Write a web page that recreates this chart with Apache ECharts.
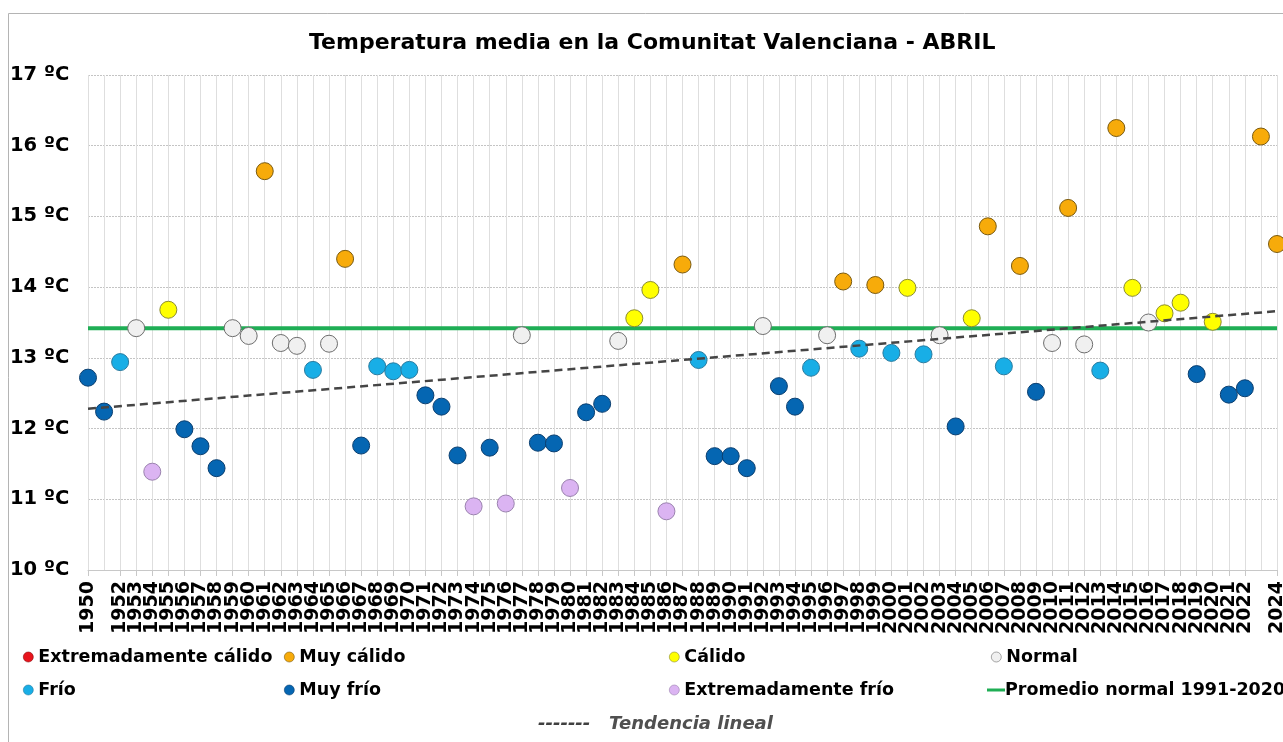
<!DOCTYPE html>
<html>
<head>
<meta charset="utf-8">
<script src="https://cdn.jsdelivr.net/npm/echarts@6/dist/echarts.min.js"></script>
<style>
  html, body { margin: 0; padding: 0; background: #fff; }
  #chart { width: 1283px; height: 742px; }
</style>
</head>
<body>
<div id="chart"></div>
<script>
// años (eje X)
const years = [
  1950, 1951, 1952, 1953, 1954, 1955, 1956, 1957, 1958, 1959,
  1960, 1961, 1962, 1963, 1964, 1965, 1966, 1967, 1968, 1969,
  1970, 1971, 1972, 1973, 1974, 1975, 1976, 1977, 1978, 1979,
  1980, 1981, 1982, 1983, 1984, 1985, 1986, 1987, 1988, 1989,
  1990, 1991, 1992, 1993, 1994, 1995, 1996, 1997, 1998, 1999,
  2000, 2001, 2002, 2003, 2004, 2005, 2006, 2007, 2008, 2009,
  2010, 2011, 2012, 2013, 2014, 2015, 2016, 2017, 2018, 2019,
  2020, 2021, 2022, 2023, 2024
];

// temperatura media de abril (ºC)
const tempAbril = [
  12.72, 12.24, 12.94, 13.42, 11.39, 13.68, 11.99, 11.75, 11.44, 13.42,
  13.31, 15.64, 13.21, 13.17, 12.83, 13.20, 14.40, 11.76, 12.88, 12.81,
  12.83, 12.47, 12.31, 11.62, 10.90, 11.73, 10.94, 13.32, 11.80, 11.79,
  11.16, 12.23, 12.35, 13.24, 13.56, 13.96, 10.83, 14.32, 12.97, 11.61,
  11.61, 11.44, 13.45, 12.60, 12.31, 12.86, 13.32, 14.08, 13.13, 14.03,
  13.07, 13.99, 13.05, 13.32, 12.03, 13.56, 14.86, 12.88, 14.30, 12.52,
  13.21, 15.12, 13.19, 12.82, 16.25, 13.99, 13.50, 13.63, 13.78, 12.77,
  13.51, 12.48, 12.57, 16.13, 14.61
];

// carácter de cada mes: EC, MC, C, N, F, MF, EF
const caracter = [
  'MF', 'MF', 'F', 'N', 'EF', 'C', 'MF', 'MF', 'MF', 'N',
  'N', 'MC', 'N', 'N', 'F', 'N', 'MC', 'MF', 'F', 'F',
  'F', 'MF', 'MF', 'MF', 'EF', 'MF', 'EF', 'N', 'MF', 'MF',
  'EF', 'MF', 'MF', 'N', 'C', 'C', 'EF', 'MC', 'F', 'MF',
  'MF', 'MF', 'N', 'MF', 'MF', 'F', 'N', 'MC', 'F', 'MC',
  'F', 'C', 'F', 'N', 'MF', 'C', 'MC', 'F', 'MC', 'MF',
  'N', 'MC', 'N', 'F', 'MC', 'C', 'N', 'C', 'C', 'MF',
  'C', 'MF', 'MF', 'MC', 'MC'
];

const categorias = [
  { key: 'EC', name: 'Extremadamente cálido', color: '#e8141c', border: '#8a0a0e' },
  { key: 'MC', name: 'Muy cálido',            color: '#f7ab0a', border: '#7a5a10' },
  { key: 'C',  name: 'Cálido',                color: '#ffff00', border: '#8c8c30' },
  { key: 'N',  name: 'Normal',                color: '#f0f0f0', border: '#6e6e6e' },
  { key: 'F',  name: 'Frío',                  color: '#18aee6', border: '#2a7ca0' },
  { key: 'MF', name: 'Muy frío',              color: '#0566b2', border: '#0b3f70' },
  { key: 'EF', name: 'Extremadamente frío',   color: '#dbb4f2', border: '#9a82ae' }
];

const promedioNormal = 13.42;          // 1991-2020
const tendenciaExtremos = [12.28, 13.66]; // valor de la tendencia en 1950 y 2024

const chart = echarts.init(document.getElementById('chart'));

const FONT = 'DejaVu Sans';

const scatterSeries = categorias.map(cat => ({
  name: cat.name,
  type: 'scatter',
  symbol: 'circle',
  symbolSize: 17,
  z: 3,
  itemStyle: { color: cat.color, borderColor: cat.border, borderWidth: 1, opacity: 1 },
  data: years
    .map((y, i) => caracter[i] === cat.key ? [y, tempAbril[i]] : null)
    .filter(d => d !== null)
}));

const firstYear = years[0];
const lastYear = years[years.length - 1];

const legendText = { fontFamily: FONT, fontWeight: 'bold', fontSize: 17.5, color: '#000' };

// una leyenda por elemento para respetar las columnas del original
const legendPos = {
  'Extremadamente cálido': [18, 643],
  'Muy cálido': [279, 643],
  'Cálido': [664, 643],
  'Normal': [986, 643],
  'Frío': [18, 676],
  'Muy frío': [279, 676],
  'Extremadamente frío': [664, 676]
};

const legends = categorias.map(cat => ({
  data: [cat.name],
  left: legendPos[cat.name][0],
  top: legendPos[cat.name][1],
  icon: 'circle',
  itemWidth: 10,
  itemHeight: 10,
  selectedMode: false,
  itemStyle: { borderWidth: 0.6 },
  textStyle: legendText
}));

legends.push({
  data: ['Promedio normal 1991-2020'],
  left: 982,
  top: 676,
  icon: 'rect',
  itemWidth: 18,
  itemHeight: 3,
  itemGap: 0,
  selectedMode: false,
  textStyle: Object.assign({}, legendText, { padding: [0, 0, 0, -5] })
});

legends.push({
  data: [{ name: 'Tendencia lineal', icon: 'none' }],
  left: 528,
  top: 710,
  itemWidth: 0,
  itemHeight: 0,
  selectedMode: false,
  formatter: '{d|-------}   {t|{name}}',
  textStyle: {
    fontFamily: FONT,
    fontSize: 18,
    fontWeight: 'bold',
    fontStyle: 'italic',
    color: '#404040',
    rich: {
      d: { fontFamily: FONT, fontSize: 18, fontWeight: 'bold', color: '#404040' },
      t: { fontFamily: FONT, fontSize: 18, fontWeight: 'bold', fontStyle: 'italic', color: '#505050' }
    }
  }
});

const option = {
  backgroundColor: '#fff',
  animation: false,
  title: {
    text: 'Temperatura media en la Comunitat Valenciana - ABRIL',
    left: 309,
    top: 32,
    padding: 0,
    textStyle: { fontFamily: FONT, fontWeight: 'bold', fontSize: 22, color: '#000' }
  },
  graphic: [
    {
      type: 'polyline',
      silent: true,
      shape: { points: [[8.5, 742], [8.5, 13.5], [1283, 13.5]] },
      style: { stroke: '#b4b4b4', lineWidth: 1, fill: null }
    }
  ],
  legend: legends,
  grid: {
    left: 88, right: 6, top: 75, bottom: 172,
    containLabel: false,
    outerBoundsMode: 'none'
  },
  xAxis: {
    type: 'value',
    min: firstYear,
    max: lastYear,
    interval: 1,
    axisLine: { show: true, onZero: false, lineStyle: { color: '#c8c8c8' } },
    axisTick: { show: true, length: 6, lineStyle: { color: '#c8c8c8' } },
    axisLabel: {
      rotate: 90,
      margin: 11,
      showMinLabel: true,
      showMaxLabel: true,
      hideOverlap: false,
      fontFamily: FONT,
      fontWeight: 'bold',
      fontSize: 19,
      color: '#000',
      formatter: v => String(v)
    },
    splitLine: { show: true, lineStyle: { color: '#dedede', width: 1 } }
  },
  yAxis: {
    type: 'value',
    min: 10,
    max: 17,
    interval: 1,
    axisLine: { show: false },
    axisTick: { show: false },
    axisLabel: {
      margin: 78,
      align: 'left',
      fontFamily: FONT,
      fontWeight: 'bold',
      fontSize: 19.5,
      color: '#000',
      formatter: '{value} ºC'
    },
    splitLine: { show: true, lineStyle: { color: '#c4c4c4', type: [2, 1], width: 1 } }
  },
  series: [
    {
      name: 'Promedio normal 1991-2020',
      type: 'line',
      symbol: 'none',
      z: 2,
      itemStyle: { color: '#1fae55' },
      lineStyle: { color: '#1fae55', width: 4 },
      data: [[firstYear, promedioNormal], [lastYear, promedioNormal]]
    },
    ...scatterSeries,
    {
      name: 'Tendencia lineal',
      type: 'line',
      symbol: 'none',
      z: 4,
      itemStyle: { color: '#454545' },
      lineStyle: { color: '#454545', width: 2.5, type: [8, 5] },
      data: [[firstYear, tendenciaExtremos[0]], [lastYear, tendenciaExtremos[1]]]
    }
  ]
};

chart.setOption(option);
</script>
</body>
</html>
